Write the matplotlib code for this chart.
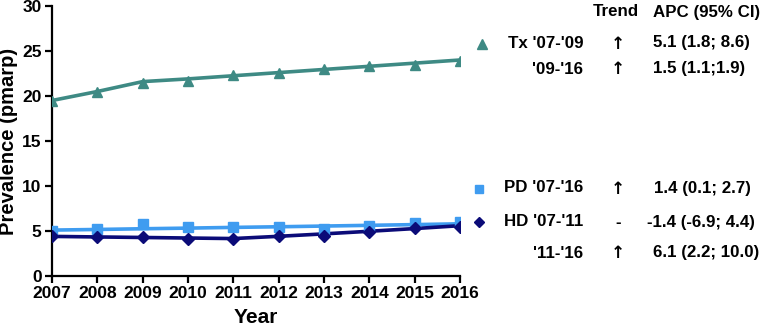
import matplotlib
matplotlib.use("Agg")
import matplotlib.pyplot as plt

years = [2007, 2008, 2009, 2010, 2011, 2012, 2013, 2014, 2015, 2016]
tx_obs = [19.5, 20.4, 21.5, 21.7, 22.3, 22.6, 23.0, 23.3, 23.5, 23.9]
tx_fit = [19.5, 20.5, 21.6, 21.9, 22.25, 22.6, 22.95, 23.3, 23.65, 24.0]
pd_obs = [5.0, 5.2, 5.8, 5.5, 5.4, 5.4, 5.2, 5.6, 5.9, 6.0]
pd_fit = [5.1, 5.17, 5.25, 5.32, 5.4, 5.47, 5.55, 5.63, 5.71, 5.8]
hd_obs = [4.4, 4.3, 4.3, 4.1, 4.1, 4.5, 4.4, 4.9, 5.3, 5.5]
hd_fit = [4.4, 4.34, 4.28, 4.22, 4.16, 4.41, 4.68, 4.97, 5.27, 5.59]

tx_color = "#3e8a84"
pd_color = "#3f9cf0"
hd_color = "#0b0b78"

plt.rcParams['font.family'] = ['Liberation Sans', 'DejaVu Sans']
plt.rcParams['font.weight'] = 'bold'

fig = plt.figure(figsize=(7.62, 3.26), dpi=100)
ax = fig.add_axes([52/762, 1-276/326, (460-52)/762, (276-6)/326])

ax.plot(years, tx_fit, color=tx_color, lw=2.6, zorder=2)
ax.plot(years, tx_obs, ls='none', marker='^', ms=7, color=tx_color, zorder=3)
ax.plot(years, pd_fit, color=pd_color, lw=2.6, zorder=2)
ax.plot(years, pd_obs, ls='none', marker='s', ms=7, color=pd_color, zorder=3)
ax.plot(years, hd_fit, color=hd_color, lw=2.6, zorder=2)
ax.plot(years, hd_obs, ls='none', marker='D', ms=6, color=hd_color, zorder=3)

ax.set_xlim(2007, 2016)
ax.set_ylim(0, 30)
ax.set_xticks(years)
ax.set_yticks([0, 5, 10, 15, 20, 25, 30])
for s in ['top', 'right']:
    ax.spines[s].set_visible(False)
for s in ['left', 'bottom']:
    ax.spines[s].set_linewidth(1.6)
ax.tick_params(direction='out', width=1.6, length=5, labelsize=12.5, pad=2.5)
for lab in ax.get_xticklabels() + ax.get_yticklabels():
    lab.set_fontweight('bold')
ax.set_xlabel('Year', fontsize=15, fontweight='bold', labelpad=5)
ax.set_ylabel('Prevalence (pmarp)', fontsize=14.5, fontweight='bold', labelpad=3)
for sp in ax.spines.values():
    sp.set_clip_on(False)

def ft(x, y, s, ha='left', **kw):
    fig.text(x/762, 1-y/326, s, ha=ha, va='center', fontsize=12.2, fontweight='bold', **kw)

ft(616, 12, 'Trend', ha='center')
ft(653, 12, 'APC (95% CI)')

fig.lines.append(plt.Line2D([482/762], [1-44/326], marker='^', ms=7, color=tx_color, transform=fig.transFigure))
ft(583, 43, "Tx '07-'09", ha='right')
ft(618, 44, '↑', ha='center', family=['DejaVu Sans'])
ft(653, 42, '5.1 (1.8; 8.6)')
ft(583, 70, "'09-'16", ha='right')
ft(618, 69, '↑', ha='center', family=['DejaVu Sans'])
ft(653, 68, '1.5 (1.1;1.9)')

fig.lines.append(plt.Line2D([479/762], [1-189/326], marker='s', ms=6, color=pd_color, transform=fig.transFigure))
ft(583, 188, "PD '07-'16", ha='right')
ft(618, 189, '↑', ha='center', family=['DejaVu Sans'])
ft(654, 188, '1.4 (0.1; 2.7)')

fig.lines.append(plt.Line2D([479/762], [1-222/326], marker='D', ms=5, color=hd_color, transform=fig.transFigure))
ft(583, 222, "HD '07-'11", ha='right')
ft(618, 222, '-', ha='center')
ft(647, 222, '-1.4 (-6.9; 4.4)')
ft(583, 253, "'11-'16", ha='right')
ft(618, 253, '↑', ha='center', family=['DejaVu Sans'])
ft(653, 252, '6.1 (2.2; 10.0)')

fig.savefig('out.png', dpi=100)
